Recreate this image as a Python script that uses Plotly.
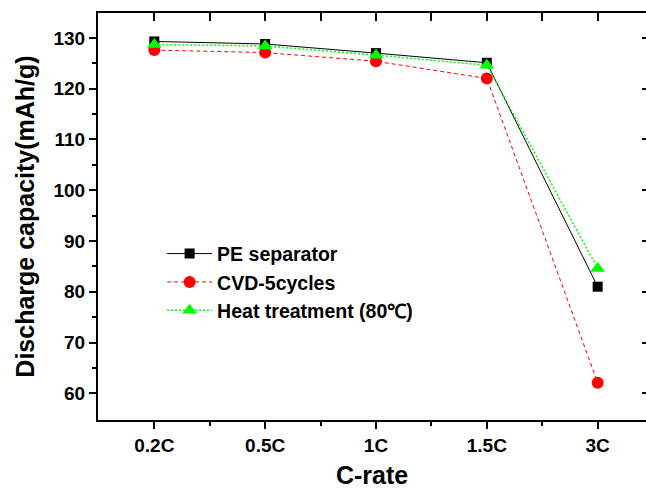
import plotly.graph_objects as go

categories = ["0.2C", "0.5C", "1C", "1.5C", "3C"]
x_idx = [0, 1, 2, 3, 4]
pe_separator = [129.3, 128.8, 127.0, 125.1, 81.0]
cvd_5cycles = [127.6, 127.1, 125.4, 122.0, 62.1]
heat_treatment = [128.7, 128.4, 126.6, 124.6, 84.6]
y_ticks = [60, 70, 80, 90, 100, 110, 120, 130]
y_minor = [65, 75, 85, 95, 105, 115, 125]
x_minor = [0.5, 1.5, 2.5, 3.5]

FONT = "Arial, Liberation Sans, sans-serif"
XR = [-0.508, 4.436]
YR = [54.75, 134.9]

fig = go.Figure()
fig.add_trace(go.Scatter(
    x=x_idx, y=pe_separator, name="PE separator", legendgroup="a",
    mode="lines+markers",
    line=dict(color="black", width=1),
    marker=dict(symbol="square", size=10, color="black")))
fig.add_trace(go.Scatter(
    x=x_idx, y=cvd_5cycles, name="CVD-5cycles", legendgroup="b",
    mode="lines+markers",
    line=dict(color="#ff0000", width=1, dash="4px,3px"),
    marker=dict(symbol="circle", size=12, color="#ff0000")))
fig.add_trace(go.Scatter(
    x=x_idx, y=heat_treatment, name="Heat treatment (80℃)", legendgroup="c",
    mode="lines+markers",
    line=dict(color="#00ff00", width=1.5, dash="2px,2px"),
    marker=dict(symbol="triangle-up", size=13, color="#00ff00")))
# invisible carrier so the mirrored top/right frame axes get drawn
fig.add_trace(go.Scatter(
    x=x_idx, y=pe_separator, xaxis="x2", yaxis="y2", mode="markers",
    marker=dict(opacity=0), showlegend=False, hoverinfo="skip"))

tickfont = dict(family=FONT, size=19, color="black", weight="bold")
titlefont = dict(family=FONT, size=25, color="black", weight="bold")

fig.update_layout(
    width=646, height=489,
    margin=dict(l=98, r=0, t=13, b=69, autoexpand=False),
    plot_bgcolor="white", paper_bgcolor="white",
    showlegend=True,
    legend=dict(x=0.117, y=0.456, xanchor="left", yanchor="top",
                font=dict(family=FONT, size=19.5, color="black", weight="bold"),
                bgcolor="rgba(0,0,0,0)", tracegroupgap=0, itemwidth=45),
    xaxis=dict(
        range=XR, tickmode="array", tickvals=x_idx, ticktext=categories,
        showline=True, linecolor="black", linewidth=2, mirror=False,
        ticks="outside", ticklen=7, tickwidth=2, tickcolor="black",
        tickfont=tickfont, showgrid=False, zeroline=False, automargin=False,
        minor=dict(tickmode="array", tickvals=x_minor, ticks="outside",
                   ticklen=4, tickwidth=2, tickcolor="black", showgrid=False),
        title=dict(text="C-rate", standoff=18, font=titlefont),
    ),
    yaxis=dict(
        range=YR, tickmode="array", tickvals=y_ticks,
        showline=True, linecolor="black", linewidth=2, mirror=False,
        ticks="outside", ticklen=7, tickwidth=2, tickcolor="black",
        tickfont=tickfont, showgrid=False, zeroline=False, automargin=False,
        minor=dict(tickmode="array", tickvals=y_minor, ticks="outside",
                   ticklen=4, tickwidth=2, tickcolor="black", showgrid=False),
        title=dict(text="Discharge capacity(mAh/g)", standoff=12, font=titlefont),
    ),
    xaxis2=dict(
        range=XR, overlaying="x", side="top", anchor="y2",
        tickmode="array", tickvals=x_idx, showticklabels=False,
        showline=True, linecolor="black", linewidth=2,
        ticks="inside", ticklen=8, tickwidth=2, tickcolor="black",
        showgrid=False, zeroline=False, automargin=False,
        minor=dict(tickmode="array", tickvals=x_minor, ticks="inside",
                   ticklen=8, tickwidth=2, tickcolor="black", showgrid=False),
    ),
    yaxis2=dict(
        range=YR, overlaying="y", side="right", anchor="x2",
        tickmode="array", tickvals=y_ticks, showticklabels=False,
        showline=False, ticks="inside", ticklen=4, tickwidth=2,
        tickcolor="black", showgrid=False, zeroline=False, automargin=False,
    ),
)

fig.write_html(
    "out.html",
    config={"displayModeBar": False},
    post_script="document.body.style.margin='0';document.body.style.overflow='hidden';",
)
